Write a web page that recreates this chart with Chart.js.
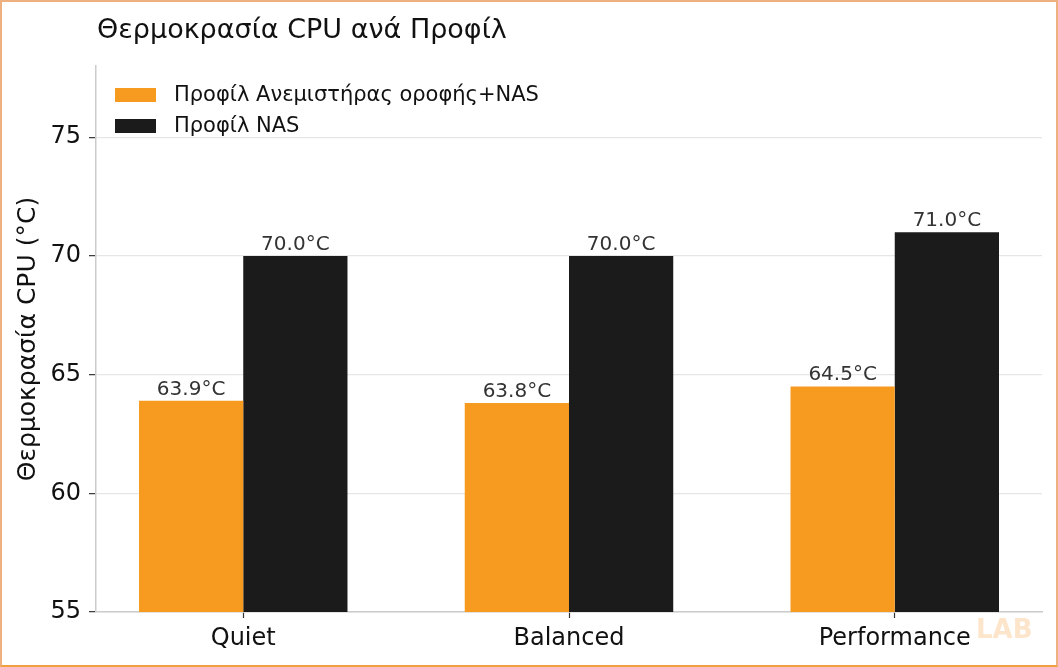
<!DOCTYPE html>
<html>
<head>
<meta charset="utf-8">
<script src="https://cdn.jsdelivr.net/npm/chart.js@4/dist/chart.umd.min.js"></script>
<style>
  html, body { margin: 0; padding: 0; background: #fff; }
  #wrap { position: relative; width: 1058px; height: 667px; box-sizing: border-box; border: 2px solid #eeb07e; border-bottom-color: #f0a040; }
  canvas { position: absolute; left: -2px; top: -2px; }
</style>
</head>
<body>
<div id="wrap"><canvas id="c" width="1058" height="667"></canvas></div>
<script>
const categories = ['Quiet', 'Balanced', 'Performance'];
const fanNasValues = [63.9, 63.8, 64.5];
const nasValues = [70.0, 70.0, 71.0];
const seriesLabels = ['Προφίλ Ανεμιστήρας οροφής+NAS', 'Προφίλ NAS'];
const yTicks = [55, 60, 65, 70, 75];
const titleText = 'Θερμοκρασία CPU ανά Προφίλ';
const yTitle = 'Θερμοκρασία CPU (°C)';

const ORANGE = '#f69a20';
const BLACK = '#1b1b1b';
const FONT = "'DejaVu Sans', sans-serif";

const overlay = {
  id: 'overlay',
  afterDatasetsDraw(chart) {
    const ctx = chart.ctx;
    ctx.save();
    ctx.font = '20px ' + FONT;
    ctx.fillStyle = '#333333';
    ctx.textAlign = 'center';
    ctx.textBaseline = 'alphabetic';
    chart.data.datasets.forEach((ds, di) => {
      const meta = chart.getDatasetMeta(di);
      meta.data.forEach((bar, i) => {
        ctx.fillText(ds.data[i].y.toFixed(1) + '°C', bar.x, bar.y - 6);
      });
    });
    ctx.restore();
  },
  afterDraw(chart) {
    const ctx = chart.ctx;
    ctx.save();
    ctx.font = '27px ' + FONT;
    ctx.fillStyle = '#111';
    ctx.textAlign = 'left';
    ctx.textBaseline = 'alphabetic';
    ctx.fillText(titleText, 97, 38);
    ctx.font = '21px ' + FONT;
    ctx.textBaseline = 'middle';
    chart.data.datasets.forEach((ds, di) => {
      const cy = 95 + di * 31;
      ctx.fillStyle = ds.backgroundColor;
      ctx.fillRect(115, cy - 7, 41, 14);
      ctx.fillStyle = '#111';
      ctx.fillText(ds.label, 174, cy + 1);
    });
    ctx.font = 'bold 26px ' + FONT;
    ctx.fillStyle = 'rgba(245,170,80,0.3)';
    ctx.textAlign = 'left';
    ctx.textBaseline = 'alphabetic';
    ctx.fillText('LAB', 976, 638);
    ctx.restore();
  }
};

new Chart(document.getElementById('c'), {
  type: 'bar',
  data: {
    datasets: [
      { label: seriesLabels[0], data: categories.map((c, i) => ({ x: i, y: fanNasValues[i] })), backgroundColor: ORANGE },
      { label: seriesLabels[1], data: categories.map((c, i) => ({ x: i, y: nasValues[i] })), backgroundColor: BLACK }
    ]
  },
  options: {
    responsive: false,
    animation: false,
    devicePixelRatio: 1,
    layout: { padding: { top: 66, right: 16, left: 0, bottom: 0 } },
    datasets: { bar: { categoryPercentage: 0.64, barPercentage: 1.0, borderWidth: 0 } },
    plugins: { legend: { display: false }, tooltip: { enabled: false }, title: { display: false } },
    scales: {
      x: {
        type: 'linear',
        min: -0.452,
        max: 2.452,
        offset: false,
        afterBuildTicks(scale) { scale.ticks = categories.map((c, i) => ({ value: i })); },
        afterFit(scale) { scale.height = 55; },
        ticks: {
          callback: (v) => categories[v] ?? '',
          font: { family: FONT, size: 24 },
          color: '#111',
          padding: 6,
          maxRotation: 0,
          autoSkip: false
        },
        grid: { offset: false, drawOnChartArea: false, drawTicks: true, tickLength: 6, tickColor: '#333', tickWidth: 1.2 },
        border: { color: '#cccccc', width: 1.5 }
      },
      y: {
        min: 55,
        max: 78,
        afterBuildTicks(scale) { scale.ticks = yTicks.map(v => ({ value: v })); },
        afterFit(scale) { scale.width = 96; },
        ticks: { font: { family: FONT, size: 24 }, color: '#111', padding: 8 },
        grid: { color: '#e6e6e6', lineWidth: 1.3, tickLength: 7, tickColor: '#333', tickWidth: 1.2 },
        border: { color: '#cccccc', width: 1.5 },
        title: { display: true, text: yTitle, font: { family: FONT, size: 25 }, color: '#111', padding: { top: 13, bottom: 0 } }
      }
    }
  },
  plugins: [overlay]
});
</script>
</body>
</html>
